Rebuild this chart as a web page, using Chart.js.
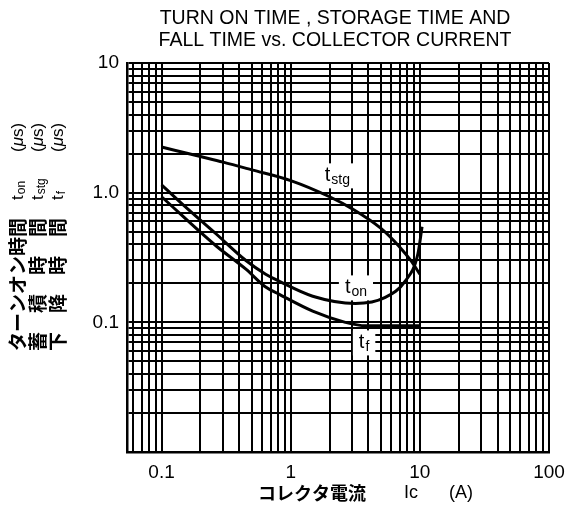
<!DOCTYPE html>
<html>
<head>
<meta charset="utf-8">
<script src="https://cdn.jsdelivr.net/npm/chart.js@4.4.0/dist/chart.umd.min.js"></script>
<style>
body { margin: 0; background: #fff; }
</style>
</head>
<body>
<canvas id="mycanvas" width="568" height="510"></canvas>
<script>
// collector current Ic (A) and the three switching times (us)
const tstgIc = [0.1, 0.2, 0.3, 0.5, 1, 2, 3, 5, 7, 8.5, 10];
const tstgUs = [2.25, 1.9, 1.72, 1.5, 1.24, 0.93, 0.75, 0.53, 0.38, 0.30, 0.235];

const tonIc = [0.1, 0.15, 0.265, 0.45, 0.64, 0.81, 1.48, 3.16, 5.4, 7.7, 9.65, 10.4];
const tonUs = [1.15, 0.79, 0.48, 0.30, 0.235, 0.208, 0.159, 0.140, 0.156, 0.208, 0.336, 0.545];

const tfIc = [0.1, 0.265, 0.45, 0.64, 0.81, 1.48, 2.65, 3.8, 10];
const tfUs = [0.93, 0.388, 0.257, 0.187, 0.165, 0.122, 0.100, 0.094, 0.094];

const xTickValues = [0.1, 1, 10, 100];
const xTickLabels = ['0.1', '1', '10', '100'];
const yTickValues = [0.1, 1, 10];
const yTickLabels = ['0.1', '1.0', '10'];

// curve names, anchored in data units
const curveLabels = [
    { x: 2.3, y: 1.36, main: 't', sub: 'stg' },
    { x: 3.2, y: 0.186, main: 't', sub: 'on' },
    { x: 3.7, y: 0.07, main: 't', sub: 'f' }
];

const titleLines = ['TURN ON TIME , STORAGE TIME AND', 'FALL TIME vs. COLLECTOR CURRENT'];
const yTitleCols = [
    { name: 'ターンオン時間', sub: 'on' },
    { name: '蓄　積　時　間', sub: 'stg' },
    { name: '下　降　時　間', sub: 'f' }
];

const pts = (xs, ys) => xs.map((v, i) => ({ x: v, y: ys[i] }));

// full log grid: 1..9 x 10^n inside the range
const logGrid = (min, max) => {
    const out = [];
    for (let e = -3; e <= 2; e++) {
        for (let m = 1; m <= 9; m++) {
            const v = Number((m * Math.pow(10, e)).toPrecision(3));
            if (v >= min - 1e-9 && v <= max + 1e-9) out.push(v);
        }
    }
    return out;
};
const sameVal = (a, b) => Math.abs(Math.log10(a) - Math.log10(b)) < 1e-6;

const X_MIN = 0.054, X_MAX = 100, Y_MIN = 0.01, Y_MAX = 10;
const SANS = '"Liberation Sans", Arial, sans-serif';
const CJK = '"Noto Sans CJK JP", sans-serif';

const lineStyle = {
    showLine: true,
    borderColor: '#000',
    borderWidth: 3,
    pointRadius: 0,
    cubicInterpolationMode: 'monotone',
    fill: false
};

const drawSubText = (ctx, x, y, main, sub, size) => {
    ctx.font = size + 'px ' + SANS;
    ctx.fillText(main, x, y);
    const w = ctx.measureText(main).width;
    ctx.font = Math.round(size * 0.68) + 'px ' + SANS;
    ctx.fillText(sub, x + w + 1, y + size * 0.22);
    return w + 1 + ctx.measureText(sub).width;
};

const textPlugin = {
    id: 'textPlugin',
    beforeDatasetsDraw(chart) {
        const ctx = chart.ctx;
        const xs = chart.scales.x, ys = chart.scales.y;
        ctx.save();
        ctx.textBaseline = 'middle';
        ctx.textAlign = 'left';
        curveLabels.forEach(l => {
            const px = xs.getPixelForValue(l.x), py = ys.getPixelForValue(l.y);
            ctx.font = '20px ' + SANS;
            const w1 = ctx.measureText(l.main).width;
            ctx.font = '14px ' + SANS;
            const w = w1 + 1 + ctx.measureText(l.sub).width;
            ctx.fillStyle = '#fff';
            ctx.fillRect(px - w / 2 - 6, py - 12, w + 12, 25);
            ctx.fillStyle = '#000';
            drawSubText(ctx, px - w / 2, py, l.main, l.sub, 20);
        });
        ctx.restore();
    },
    afterDraw(chart) {
        const ctx = chart.ctx;
        const area = chart.chartArea;
        ctx.save();
        ctx.fillStyle = '#000';
        ctx.textBaseline = 'middle';

        // title
        ctx.textAlign = 'center';
        ctx.font = '19.5px ' + SANS;
        const cx = (area.left + area.right) / 2 - 3;
        titleLines.forEach((t, i) => ctx.fillText(t, cx, 19 + i * 22));

        // x axis title
        ctx.textAlign = 'left';
        ctx.font = 'bold 18px ' + CJK;
        ctx.fillText('コレクタ電流', 258, 493);
        ctx.font = '18px ' + SANS;
        ctx.fillText('Ic', 404, 493);
        ctx.fillText('(A)', 449, 493);

        // y axis title, three rotated columns
        yTitleCols.forEach((c, i) => {
            ctx.save();
            ctx.translate(18 + i * 20, 351);
            ctx.rotate(-Math.PI / 2);
            ctx.font = 'bold 19px ' + CJK;
            ctx.fillText(c.name, 0, 0);
            drawSubText(ctx, 151, 0, 't', c.sub, 17);
            ctx.font = '17px ' + SANS;
            ctx.fillText('(', 199, 0);
            const wp = ctx.measureText('(').width;
            ctx.font = 'italic 17px ' + SANS;
            ctx.fillText('μ', 199 + wp, 0);
            const wm = ctx.measureText('μ').width;
            ctx.font = '17px ' + SANS;
            ctx.fillText('s)', 199 + wp + wm, 0);
            ctx.restore();
        });
        ctx.restore();
    }
};

const ctx = document.getElementById('mycanvas').getContext('2d');
const myChart = new Chart(ctx, {
    type: 'scatter',
    data: {
        datasets: [
            { label: 'tstg', data: pts(tstgIc, tstgUs), ...lineStyle },
            { label: 'ton', data: pts(tonIc, tonUs), ...lineStyle },
            { label: 'tf', data: pts(tfIc, tfUs), ...lineStyle }
        ]
    },
    options: {
        responsive: false,
        animation: false,
        layout: { padding: { left: 0, top: 63, right: 19, bottom: 0 } },
        plugins: {
            legend: { display: false },
            tooltip: { enabled: false },
            title: { display: false }
        },
        scales: {
            x: {
                type: 'logarithmic',
                min: X_MIN,
                max: X_MAX,
                afterBuildTicks: (axis) => {
                    axis.ticks = logGrid(X_MIN, X_MAX).map(v => ({ value: v }));
                },
                afterFit: (axis) => {
                    axis.height = 58;
                    axis.paddingLeft = 0;
                    axis.paddingRight = 0;
                },
                grid: {
                    color: '#000',
                    lineWidth: 2,
                    drawTicks: false
                },
                border: { color: '#000', width: 2.5 },
                ticks: {
                    autoSkip: false,
                    maxRotation: 0,
                    padding: 9,
                    color: '#000',
                    font: { family: SANS, size: 19 },
                    callback: (v) => {
                        const i = xTickValues.findIndex(t => sameVal(t, v));
                        return i >= 0 ? xTickLabels[i] : '';
                    }
                }
            },
            y: {
                type: 'logarithmic',
                min: Y_MIN,
                max: Y_MAX,
                afterBuildTicks: (axis) => {
                    axis.ticks = logGrid(Y_MIN, Y_MAX).map(v => ({ value: v }));
                },
                afterFit: (axis) => { axis.width = 127; },
                grid: {
                    color: '#000',
                    lineWidth: 2,
                    drawTicks: false
                },
                border: { color: '#000', width: 2.5 },
                ticks: {
                    autoSkip: false,
                    padding: 8,
                    color: '#000',
                    font: { family: SANS, size: 19 },
                    callback: (v) => {
                        const i = yTickValues.findIndex(t => sameVal(t, v));
                        return i >= 0 ? yTickLabels[i] : '';
                    }
                }
            }
        }
    },
    plugins: [textPlugin]
});
</script>
</body>
</html>
